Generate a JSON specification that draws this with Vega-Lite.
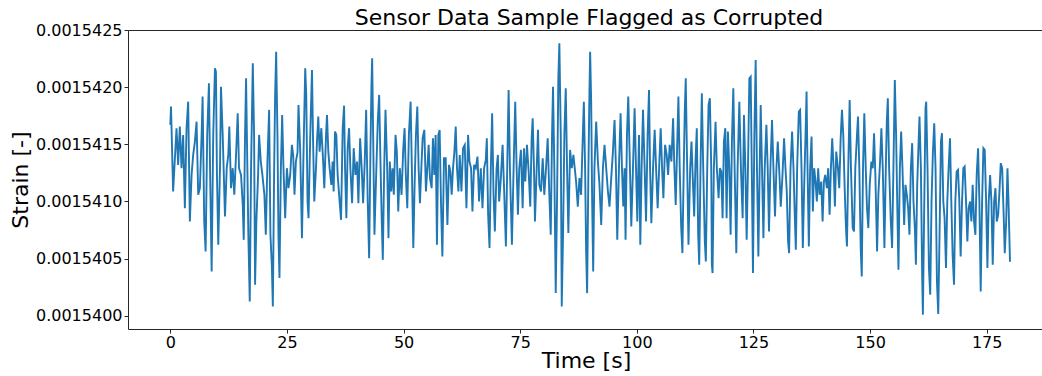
{
"$schema": "https://vega.github.io/schema/vega-lite/v6.json",
"width": 916, "height": 299,
"autosize": {"type": "none"},
"padding": {"left": 128, "top": 30, "right": 0, "bottom": 47},
"background": "white",
"config": {"font": "DejaVu Sans", "view": {"stroke": "#262626", "strokeWidth": 1}, "axis": {"grid": false, "domain": false}},
"title": {"text": "Sensor Data Sample Flagged as Corrupted", "fontSize": 22, "fontWeight": "normal", "color": "#000000", "anchor": "middle", "offset": -8, "dx": 3},
"data": {"values": [
{"t":0,"s":0.001541670},{"t":0.15,"s":0.001541830},{"t":0.6,"s":0.001541087},{"t":1.33,"s":0.001541641},{"t":1.68,"s":0.001541320},{"t":2.04,"s":0.001541655},{"t":2.41,"s":0.001541291},{"t":2.75,"s":0.001541582},{"t":3.12,"s":0.001540941},{"t":3.48,"s":0.001541641},{"t":3.83,"s":0.001541873},{"t":4.19,"s":0.001540824},{"t":4.56,"s":0.001541232},{"t":4.9,"s":0.001541407},{"t":5.27,"s":0.001541524},{"t":5.63,"s":0.001541698},{"t":5.98,"s":0.001541058},{"t":6.34,"s":0.001541116},{"t":6.71,"s":0.001541582},{"t":6.92,"s":0.001541917},{"t":7.27,"s":0.001540824},{"t":7.57,"s":0.001540562},{"t":7.91,"s":0.001541582},{"t":8.28,"s":0.001542034},{"t":8.56,"s":0.001541174},{"t":8.86,"s":0.001540387},{"t":9.2,"s":0.001541582},{"t":9.57,"s":0.001542165},{"t":9.78,"s":0.001542135},{"t":10.0,"s":0.001541232},{"t":10.28,"s":0.001540621},{"t":10.65,"s":0.001541291},{"t":10.86,"s":0.001542004},{"t":11.23,"s":0.001541582},{"t":11.72,"s":0.001540868},{"t":12.09,"s":0.001541291},{"t":12.43,"s":0.001541407},{"t":12.65,"s":0.001541655},{"t":13.01,"s":0.001541116},{"t":13.38,"s":0.001541291},{"t":13.72,"s":0.001541058},{"t":14.09,"s":0.001541407},{"t":14.45,"s":0.001541772},{"t":14.73,"s":0.001541291},{"t":15.16,"s":0.001541232},{"t":15.53,"s":0.001540970},{"t":15.74,"s":0.001540664},{"t":16.02,"s":0.001541582},{"t":16.24,"s":0.001542078},{"t":16.52,"s":0.001541291},{"t":16.73,"s":0.001540708},{"t":17.03,"s":0.001540125},{"t":17.31,"s":0.001541291},{"t":17.68,"s":0.001542209},{"t":17.96,"s":0.001541582},{"t":18.17,"s":0.001540271},{"t":18.45,"s":0.001540824},{"t":18.82,"s":0.001541232},{"t":19.03,"s":0.001541582},{"t":19.4,"s":0.001541349},{"t":19.74,"s":0.001541232},{"t":20.17,"s":0.001541058},{"t":20.47,"s":0.001540708},{"t":20.82,"s":0.001541349},{"t":21.18,"s":0.001541801},{"t":21.46,"s":0.001540708},{"t":21.76,"s":0.001540446},{"t":21.98,"s":0.001540081},{"t":22.26,"s":0.001541291},{"t":22.47,"s":0.001541932},{"t":22.69,"s":0.001542310},{"t":22.97,"s":0.001541582},{"t":23.18,"s":0.001540708},{"t":23.4,"s":0.001540330},{"t":23.7,"s":0.001541291},{"t":23.98,"s":0.001541757},{"t":24.26,"s":0.001541291},{"t":24.62,"s":0.001540854},{"t":24.99,"s":0.001541291},{"t":25.33,"s":0.001541116},{"t":25.7,"s":0.001541232},{"t":26.06,"s":0.001541495},{"t":26.34,"s":0.001541407},{"t":26.62,"s":0.001541058},{"t":26.92,"s":0.001541349},{"t":27.27,"s":0.001541430},{"t":27.48,"s":0.001541844},{"t":27.85,"s":0.001541436},{"t":28.22,"s":0.001540679},{"t":28.56,"s":0.001541436},{"t":28.92,"s":0.001542165},{"t":29.14,"s":0.001541932},{"t":29.42,"s":0.001540999},{"t":29.63,"s":0.001540854},{"t":30.0,"s":0.001541582},{"t":30.37,"s":0.001542150},{"t":30.58,"s":0.001541582},{"t":30.86,"s":0.001540999},{"t":31.23,"s":0.001541291},{"t":31.44,"s":0.001541524},{"t":31.72,"s":0.001541742},{"t":32.0,"s":0.001541436},{"t":32.37,"s":0.001541641},{"t":32.73,"s":0.001541378},{"t":33.01,"s":0.001541116},{"t":33.38,"s":0.001541582},{"t":33.59,"s":0.001541757},{"t":33.87,"s":0.001541436},{"t":34.15,"s":0.001541291},{"t":34.52,"s":0.001541145},{"t":34.8,"s":0.001541349},{"t":35.01,"s":0.001541087},{"t":35.31,"s":0.001541611},{"t":35.59,"s":0.001541582},{"t":35.87,"s":0.001541232},{"t":36.3,"s":0.001540999},{"t":36.6,"s":0.001540839},{"t":36.95,"s":0.001541641},{"t":37.25,"s":0.001541838},{"t":37.46,"s":0.001541291},{"t":37.74,"s":0.001540854},{"t":38.02,"s":0.001541466},{"t":38.32,"s":0.001541641},{"t":38.6,"s":0.001541291},{"t":38.97,"s":0.001540985},{"t":39.31,"s":0.001541466},{"t":39.68,"s":0.001541232},{"t":40.04,"s":0.001541349},{"t":40.32,"s":0.001540985},{"t":40.69,"s":0.001541553},{"t":41.03,"s":0.001541291},{"t":41.33,"s":0.001540985},{"t":41.68,"s":0.001541349},{"t":41.98,"s":0.001541801},{"t":42.32,"s":0.001540999},{"t":42.62,"s":0.001540504},{"t":42.9,"s":0.001541436},{"t":43.12,"s":0.001542019},{"t":43.27,"s":0.001542253},{"t":43.48,"s":0.001541582},{"t":43.76,"s":0.001540708},{"t":44.13,"s":0.001541232},{"t":44.47,"s":0.001541698},{"t":44.77,"s":0.001541932},{"t":45.05,"s":0.001541349},{"t":45.33,"s":0.001540824},{"t":45.55,"s":0.001540489},{"t":45.85,"s":0.001541291},{"t":46.13,"s":0.001541801},{"t":46.49,"s":0.001541291},{"t":46.77,"s":0.001540679},{"t":47.05,"s":0.001541349},{"t":47.35,"s":0.001541087},{"t":47.63,"s":0.001541291},{"t":47.91,"s":0.001541058},{"t":48.28,"s":0.001541582},{"t":48.56,"s":0.001541436},{"t":48.86,"s":0.001540912},{"t":49.2,"s":0.001541291},{"t":49.57,"s":0.001541058},{"t":49.94,"s":0.001541466},{"t":50.22,"s":0.001541641},{"t":50.49,"s":0.001541232},{"t":50.8,"s":0.001540941},{"t":51.14,"s":0.001541582},{"t":51.51,"s":0.001541873},{"t":51.78,"s":0.001541291},{"t":52.09,"s":0.001540592},{"t":52.37,"s":0.001541145},{"t":52.65,"s":0.001541582},{"t":52.95,"s":0.001541830},{"t":53.23,"s":0.001541291},{"t":53.51,"s":0.001540985},{"t":53.81,"s":0.001541291},{"t":54.09,"s":0.001541553},{"t":54.45,"s":0.001541626},{"t":54.8,"s":0.001541087},{"t":55.1,"s":0.001541291},{"t":55.38,"s":0.001541495},{"t":55.66,"s":0.001541204},{"t":56.02,"s":0.001541116},{"t":56.3,"s":0.001541553},{"t":56.6,"s":0.001541232},{"t":56.88,"s":0.001541582},{"t":57.16,"s":0.001540621},{"t":57.46,"s":0.001541582},{"t":57.74,"s":0.001541626},{"t":58.02,"s":0.001540999},{"t":58.32,"s":0.001540518},{"t":58.67,"s":0.001541378},{"t":59.03,"s":0.001541378},{"t":59.4,"s":0.001540795},{"t":59.74,"s":0.001541320},{"t":60.04,"s":0.001541261},{"t":60.32,"s":0.001541058},{"t":60.6,"s":0.001541291},{"t":60.9,"s":0.001541436},{"t":61.18,"s":0.001541655},{"t":61.46,"s":0.001541291},{"t":61.76,"s":0.001541087},{"t":62.04,"s":0.001541407},{"t":62.41,"s":0.001541087},{"t":62.75,"s":0.001541466},{"t":63.12,"s":0.001541495},{"t":63.48,"s":0.001540941},{"t":63.83,"s":0.001541582},{"t":64.13,"s":0.001541349},{"t":64.47,"s":0.001541291},{"t":64.77,"s":0.001540912},{"t":65.12,"s":0.001541320},{"t":65.48,"s":0.001541291},{"t":65.85,"s":0.001541392},{"t":66.19,"s":0.001540999},{"t":66.56,"s":0.001541291},{"t":66.92,"s":0.001540941},{"t":67.27,"s":0.001541291},{"t":67.63,"s":0.001541364},{"t":67.85,"s":0.001541553},{"t":68.13,"s":0.001540883},{"t":68.43,"s":0.001540592},{"t":68.71,"s":0.001541291},{"t":68.99,"s":0.001541772},{"t":69.29,"s":0.001541058},{"t":69.57,"s":0.001540737},{"t":69.94,"s":0.001541291},{"t":70.22,"s":0.001541407},{"t":70.49,"s":0.001540999},{"t":70.86,"s":0.001541204},{"t":71.23,"s":0.001541495},{"t":71.57,"s":0.001541087},{"t":71.94,"s":0.001540606},{"t":72.22,"s":0.001541291},{"t":72.52,"s":0.001541975},{"t":72.8,"s":0.001541291},{"t":73.23,"s":0.001540621},{"t":73.59,"s":0.001541291},{"t":73.94,"s":0.001541873},{"t":74.24,"s":0.001541291},{"t":74.52,"s":0.001540883},{"t":74.8,"s":0.001541291},{"t":75.16,"s":0.001541451},{"t":75.53,"s":0.001540941},{"t":75.81,"s":0.001541466},{"t":76.09,"s":0.001541174},{"t":76.45,"s":0.001541495},{"t":76.82,"s":0.001541261},{"t":77.16,"s":0.001540955},{"t":77.46,"s":0.001541553},{"t":77.68,"s":0.001541728},{"t":77.96,"s":0.001541291},{"t":78.17,"s":0.001540824},{"t":78.54,"s":0.001541291},{"t":78.82,"s":0.001541626},{"t":79.1,"s":0.001541145},{"t":79.46,"s":0.001541087},{"t":79.83,"s":0.001541378},{"t":80.17,"s":0.001541058},{"t":80.54,"s":0.001541291},{"t":80.9,"s":0.001541553},{"t":81.25,"s":0.001541058},{"t":81.55,"s":0.001540708},{"t":81.83,"s":0.001541582},{"t":82.04,"s":0.001542004},{"t":82.32,"s":0.001541291},{"t":82.62,"s":0.001540198},{"t":82.9,"s":0.001540999},{"t":83.18,"s":0.001542078},{"t":83.4,"s":0.001542384},{"t":83.7,"s":0.001541582},{"t":83.91,"s":0.001540081},{"t":84.19,"s":0.001540708},{"t":84.47,"s":0.001541582},{"t":84.77,"s":0.001541990},{"t":85.05,"s":0.001541291},{"t":85.33,"s":0.001540723},{"t":85.7,"s":0.001541451},{"t":86.06,"s":0.001541291},{"t":86.41,"s":0.001541407},{"t":86.99,"s":0.001541174},{"t":87.35,"s":0.001540955},{"t":87.7,"s":0.001541204},{"t":88.06,"s":0.001541058},{"t":88.43,"s":0.001541582},{"t":88.65,"s":0.001541873},{"t":88.92,"s":0.001541291},{"t":89.14,"s":0.001540562},{"t":89.35,"s":0.001540198},{"t":89.63,"s":0.001541291},{"t":89.85,"s":0.001541961},{"t":90.0,"s":0.001542310},{"t":90.22,"s":0.001541873},{"t":90.43,"s":0.001540999},{"t":90.65,"s":0.001540387},{"t":90.92,"s":0.001541291},{"t":91.29,"s":0.001541698},{"t":91.66,"s":0.001541349},{"t":92.0,"s":0.001541145},{"t":92.37,"s":0.001540795},{"t":92.73,"s":0.001541291},{"t":93.08,"s":0.001541495},{"t":93.44,"s":0.001541291},{"t":93.81,"s":0.001541087},{"t":94.15,"s":0.001540955},{"t":94.52,"s":0.001541204},{"t":94.88,"s":0.001541436},{"t":95.23,"s":0.001541713},{"t":95.53,"s":0.001541291},{"t":95.81,"s":0.001540664},{"t":96.17,"s":0.001541291},{"t":96.52,"s":0.001541772},{"t":96.82,"s":0.001541291},{"t":97.1,"s":0.001540955},{"t":97.38,"s":0.001541291},{"t":97.59,"s":0.001540664},{"t":97.89,"s":0.001541582},{"t":98.17,"s":0.001541917},{"t":98.45,"s":0.001541436},{"t":98.82,"s":0.001540781},{"t":99.18,"s":0.001541291},{"t":99.53,"s":0.001541816},{"t":99.83,"s":0.001541291},{"t":100.11,"s":0.001540824},{"t":100.47,"s":0.001541582},{"t":100.75,"s":0.001540621},{"t":101.03,"s":0.001541291},{"t":101.33,"s":0.001541801},{"t":101.68,"s":0.001541291},{"t":101.98,"s":0.001540824},{"t":102.32,"s":0.001541582},{"t":102.62,"s":0.001541975},{"t":102.84,"s":0.001541291},{"t":103.12,"s":0.001540810},{"t":103.48,"s":0.001541291},{"t":103.83,"s":0.001541626},{"t":104.19,"s":0.001541232},{"t":104.47,"s":0.001540941},{"t":104.84,"s":0.001541349},{"t":105.12,"s":0.001541641},{"t":105.42,"s":0.001541291},{"t":105.7,"s":0.001541029},{"t":106.06,"s":0.001541495},{"t":106.41,"s":0.001541407},{"t":106.71,"s":0.001541232},{"t":107.05,"s":0.001541495},{"t":107.42,"s":0.001541349},{"t":107.78,"s":0.001541728},{"t":108.06,"s":0.001541291},{"t":108.34,"s":0.001540970},{"t":108.71,"s":0.001541582},{"t":108.92,"s":0.001541917},{"t":109.2,"s":0.001541291},{"t":109.51,"s":0.001540781},{"t":109.78,"s":0.001540548},{"t":110.06,"s":0.001541291},{"t":110.28,"s":0.001541786},{"t":110.49,"s":0.001542078},{"t":110.8,"s":0.001541291},{"t":111.08,"s":0.001540621},{"t":111.44,"s":0.001541291},{"t":111.72,"s":0.001541524},{"t":112.0,"s":0.001541204},{"t":112.3,"s":0.001540868},{"t":112.58,"s":0.001541349},{"t":112.86,"s":0.001541641},{"t":113.16,"s":0.001540708},{"t":113.38,"s":0.001540446},{"t":113.66,"s":0.001541291},{"t":113.94,"s":0.001541947},{"t":114.24,"s":0.001541291},{"t":114.58,"s":0.001540649},{"t":114.8,"s":0.001540475},{"t":115.1,"s":0.001541291},{"t":115.38,"s":0.001541844},{"t":115.66,"s":0.001541903},{"t":115.96,"s":0.001541291},{"t":116.09,"s":0.001540446},{"t":116.24,"s":0.001540373},{"t":116.52,"s":0.001541291},{"t":116.88,"s":0.001541698},{"t":117.16,"s":0.001541291},{"t":117.53,"s":0.001541029},{"t":117.81,"s":0.001541291},{"t":118.11,"s":0.001541261},{"t":118.39,"s":0.001540854},{"t":118.67,"s":0.001541524},{"t":118.97,"s":0.001541641},{"t":119.25,"s":0.001540854},{"t":119.53,"s":0.001541611},{"t":119.83,"s":0.001541291},{"t":120.11,"s":0.001540708},{"t":120.39,"s":0.001541524},{"t":120.69,"s":0.001541990},{"t":120.97,"s":0.001541291},{"t":121.33,"s":0.001540548},{"t":121.61,"s":0.001541291},{"t":121.98,"s":0.001541873},{"t":122.32,"s":0.001541291},{"t":122.69,"s":0.001540854},{"t":122.97,"s":0.001541757},{"t":123.27,"s":0.001541291},{"t":123.55,"s":0.001540664},{"t":123.83,"s":0.001541291},{"t":124.13,"s":0.001542078},{"t":124.41,"s":0.001542092},{"t":124.69,"s":0.001541145},{"t":124.9,"s":0.001540373},{"t":125.2,"s":0.001541582},{"t":125.48,"s":0.001542238},{"t":125.76,"s":0.001541291},{"t":126.06,"s":0.001540518},{"t":126.34,"s":0.001541291},{"t":126.56,"s":0.001541844},{"t":126.84,"s":0.001541291},{"t":127.14,"s":0.001540679},{"t":127.42,"s":0.001541291},{"t":127.78,"s":0.001541670},{"t":128.06,"s":0.001541291},{"t":128.34,"s":0.001540737},{"t":128.64,"s":0.001541291},{"t":128.99,"s":0.001541713},{"t":129.29,"s":0.001541291},{"t":129.63,"s":0.001540868},{"t":129.93,"s":0.001541291},{"t":130.22,"s":0.001541524},{"t":130.58,"s":0.001541232},{"t":130.86,"s":0.001540955},{"t":131.23,"s":0.001541232},{"t":131.57,"s":0.001541553},{"t":131.87,"s":0.001541291},{"t":132.15,"s":0.001541087},{"t":132.43,"s":0.001540649},{"t":132.65,"s":0.001540548},{"t":132.95,"s":0.001541291},{"t":133.29,"s":0.001541611},{"t":133.59,"s":0.001541291},{"t":133.87,"s":0.001540868},{"t":134.09,"s":0.001540577},{"t":134.37,"s":0.001541291},{"t":134.73,"s":0.001541786},{"t":135.01,"s":0.001541801},{"t":135.31,"s":0.001541291},{"t":135.59,"s":0.001540592},{"t":135.87,"s":0.001541116},{"t":136.17,"s":0.001541582},{"t":136.39,"s":0.001541961},{"t":136.6,"s":0.001541291},{"t":136.88,"s":0.001540606},{"t":137.16,"s":0.001541291},{"t":137.46,"s":0.001541567},{"t":137.74,"s":0.001540912},{"t":138.02,"s":0.001541291},{"t":138.32,"s":0.001541174},{"t":138.6,"s":0.001540999},{"t":138.88,"s":0.001541291},{"t":139.18,"s":0.001541058},{"t":139.53,"s":0.001541174},{"t":139.83,"s":0.001540824},{"t":140.11,"s":0.001541174},{"t":140.39,"s":0.001541232},{"t":140.75,"s":0.001541116},{"t":141.03,"s":0.001541291},{"t":141.33,"s":0.001540883},{"t":141.61,"s":0.001541291},{"t":141.89,"s":0.001541553},{"t":142.19,"s":0.001541291},{"t":142.47,"s":0.001540955},{"t":142.75,"s":0.001541436},{"t":143.12,"s":0.001541291},{"t":143.4,"s":0.001541116},{"t":143.7,"s":0.001541553},{"t":143.98,"s":0.001541801},{"t":144.26,"s":0.001541582},{"t":144.56,"s":0.001541116},{"t":144.84,"s":0.001540767},{"t":145.05,"s":0.001540606},{"t":145.33,"s":0.001541291},{"t":145.63,"s":0.001541888},{"t":145.91,"s":0.001541291},{"t":146.28,"s":0.001540767},{"t":146.56,"s":0.001540737},{"t":146.84,"s":0.001541291},{"t":147.2,"s":0.001541582},{"t":147.42,"s":0.001541742},{"t":147.7,"s":0.001541291},{"t":148.0,"s":0.001540592},{"t":148.22,"s":0.001540344},{"t":148.49,"s":0.001541291},{"t":148.77,"s":0.001541772},{"t":149.08,"s":0.001541291},{"t":149.35,"s":0.001540941},{"t":149.63,"s":0.001540767},{"t":149.93,"s":0.001541145},{"t":150.28,"s":0.001541349},{"t":150.58,"s":0.001541291},{"t":150.86,"s":0.001541597},{"t":151.14,"s":0.001541232},{"t":151.51,"s":0.001540562},{"t":151.78,"s":0.001541058},{"t":152.15,"s":0.001541349},{"t":152.43,"s":0.001541641},{"t":152.73,"s":0.001541291},{"t":153.08,"s":0.001540592},{"t":153.38,"s":0.001541291},{"t":153.59,"s":0.001541698},{"t":153.81,"s":0.001541903},{"t":154.09,"s":0.001541291},{"t":154.45,"s":0.001540824},{"t":154.73,"s":0.001540592},{"t":155.01,"s":0.001541291},{"t":155.31,"s":0.001542063},{"t":155.59,"s":0.001541582},{"t":155.87,"s":0.001540883},{"t":156.09,"s":0.001540402},{"t":156.39,"s":0.001541291},{"t":156.67,"s":0.001541611},{"t":156.95,"s":0.001541291},{"t":157.31,"s":0.001540795},{"t":157.59,"s":0.001541145},{"t":157.89,"s":0.001541058},{"t":158.17,"s":0.001540941},{"t":158.45,"s":0.001540708},{"t":158.75,"s":0.001541291},{"t":159.03,"s":0.001541510},{"t":159.31,"s":0.001540999},{"t":159.61,"s":0.001540767},{"t":159.83,"s":0.001540446},{"t":160.11,"s":0.001541145},{"t":160.39,"s":0.001541495},{"t":160.6,"s":0.001541742},{"t":160.9,"s":0.001541291},{"t":161.18,"s":0.001540330},{"t":161.33,"s":0.001540009},{"t":161.61,"s":0.001540941},{"t":161.89,"s":0.001541816},{"t":162.04,"s":0.001541873},{"t":162.32,"s":0.001541291},{"t":162.62,"s":0.001540417},{"t":162.9,"s":0.001540184},{"t":163.18,"s":0.001540999},{"t":163.48,"s":0.001541436},{"t":163.76,"s":0.001541684},{"t":164.04,"s":0.001541291},{"t":164.34,"s":0.001540300},{"t":164.62,"s":0.001540015},{"t":164.9,"s":0.001540708},{"t":165.2,"s":0.001541524},{"t":165.42,"s":0.001541597},{"t":165.7,"s":0.001540999},{"t":165.98,"s":0.001540854},{"t":166.28,"s":0.001540417},{"t":166.56,"s":0.001540999},{"t":166.84,"s":0.001541291},{"t":167.14,"s":0.001541553},{"t":167.42,"s":0.001540999},{"t":167.7,"s":0.001540533},{"t":168.0,"s":0.001540271},{"t":168.28,"s":0.001540999},{"t":168.56,"s":0.001541261},{"t":168.86,"s":0.001541276},{"t":169.14,"s":0.001540999},{"t":169.42,"s":0.001540518},{"t":169.72,"s":0.001540999},{"t":170.0,"s":0.001541291},{"t":170.28,"s":0.001541305},{"t":170.58,"s":0.001540999},{"t":170.86,"s":0.001540649},{"t":171.14,"s":0.001540941},{"t":171.44,"s":0.001540999},{"t":171.72,"s":0.001540824},{"t":172.0,"s":0.001541145},{"t":172.3,"s":0.001540824},{"t":172.58,"s":0.001540708},{"t":172.86,"s":0.001541232},{"t":173.16,"s":0.001541466},{"t":173.44,"s":0.001540999},{"t":173.72,"s":0.001540212},{"t":174.02,"s":0.001540999},{"t":174.3,"s":0.001541466},{"t":174.58,"s":0.001541451},{"t":174.88,"s":0.001540999},{"t":175.16,"s":0.001540417},{"t":175.44,"s":0.001540999},{"t":175.74,"s":0.001541232},{"t":176.02,"s":0.001540999},{"t":176.3,"s":0.001540446},{"t":176.6,"s":0.001540999},{"t":176.88,"s":0.001541116},{"t":177.16,"s":0.001540824},{"t":177.46,"s":0.001540883},{"t":177.74,"s":0.001541087},{"t":178.02,"s":0.001541335},{"t":178.32,"s":0.001541291},{"t":178.6,"s":0.001540941},{"t":178.88,"s":0.001540548},{"t":179.18,"s":0.001540824},{"t":179.46,"s":0.001541291},{"t":179.68,"s":0.001540999},{"t":180.0,"s":0.001540472}
]},
"mark": {"type": "line", "color": "#1f77b4", "strokeWidth": 1.9, "clip": true},
"encoding": {
  "x": {"field": "t", "type": "quantitative",
        "scale": {"domain": [-9.07, 187.29], "nice": false, "zero": false},
        "axis": {"values": [0, 25, 50, 75, 100, 125, 150, 175], "title": "Time [s]", "labelFontSize": 16, "titleFontSize": 22, "titleFontWeight": "normal", "tickSize": 4, "tickColor": "#262626", "labelPadding": 1, "titlePadding": 0, "labelColor": "#000000", "titleColor": "#000000", "labelFlush": false}},
  "y": {"field": "s", "type": "quantitative",
        "scale": {"domain": [0.001539884, 0.0015425], "nice": false, "zero": false},
        "axis": {"values": [0.00154, 0.0015405, 0.001541, 0.0015415, 0.001542, 0.0015425], "format": ".7f", "title": "Strain [-]", "labelFontSize": 16, "titleFontSize": 22, "titleFontWeight": "normal", "tickSize": 4, "tickColor": "#262626", "labelPadding": 2, "titlePadding": 3, "labelColor": "#000000", "titleColor": "#000000", "labelFlush": false}}
}
}
